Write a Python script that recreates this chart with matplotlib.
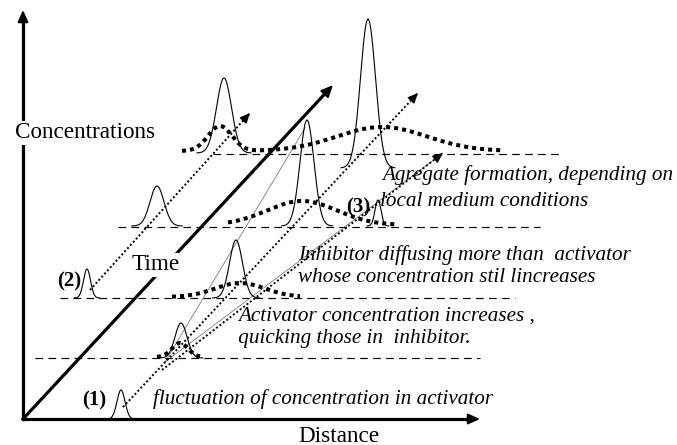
import numpy as np
import matplotlib.pyplot as plt

# diagram units: 1 unit = 1 pixel, y grows downwards
W, H = 677, 445

# origin and axis ends
origin = (23, 419)
x_axis_end = (480, 419)
y_axis_end = (23, 10)
time_end = (333, 85)

# dashed baselines for the time steps
lvl_y = [358, 298, 227, 154]
lvl_x0 = [35, 60, 118, 213]
lvl_x1 = [480, 515, 540, 562]

# activator peaks (solid): centre, baseline, height, width
act_x = [121, 181, 87, 236, 157, 307, 378, 224, 368]
act_base = [419, 358, 298, 298, 226, 226, 226, 153, 168]
act_height = [29, 35, 29, 58, 40, 106, 26, 75, 149]
act_width = [4, 6, 3.5, 6.5, 7, 7, 3, 7.5, 7.5]

# inhibitor profiles (thick dotted)
inh_base = [357, 297, 225, 151]
inh_start = [157, 172, 228, 182]
inh_end = [200, 300, 395, 503]
inh_centers = [[180], [240], [302], [220, 382]]
inh_heights = [[14], [14], [24], [25, 24]]
inh_widths = [[8], [25], [35], [12, 45]]

# dotted evolution arrows
arr_start = [(90, 290), (123, 407), (162, 370)]
arr_end = [(250, 113), (418, 93), (443, 153)]

# thin guide lines
thin_start = [(165, 362), (165, 362)]
thin_end = [(305, 128), (443, 153)]

# labels
notes = [
    ("fluctuation of concentration in activator", 153, 399),
    ("Activator concentration increases ,", 238, 316),
    (" quicking those in  inhibitor.", 233, 338),
    ("Inhibitor diffusing more than  activator", 298, 255),
    ("whose concentration stil lincreases", 298, 278),
    ("Agregate formation, depending on", 382, 175),
    ("local medium conditions", 380, 201),
]
step_labels = [("(1)", 94, 400), ("(2)", 69, 281), ("(3)", 358, 207)]

serif = "Liberation Serif"

fig = plt.figure(figsize=(W / 100, H / 100), dpi=100)
ax = fig.add_axes([0, 0, 1, 1])
ax.set_xlim(0, W)
ax.set_ylim(H, 0)
ax.axis("off")


def arrow_head(p0, p1, lw, size):
    frac = 0.02
    tail = (p1[0] - (p1[0] - p0[0]) * frac, p1[1] - (p1[1] - p0[1]) * frac)
    ax.annotate("", xy=p1, xytext=tail,
                arrowprops=dict(arrowstyle="-|>,head_length=%s,head_width=%s" % (size, size * 0.45),
                                color="black", lw=lw, shrinkA=0, shrinkB=0), zorder=6)


# main axes
ax.plot([origin[0], x_axis_end[0] - 8], [origin[1], origin[1]], color="black", lw=2.3, zorder=4)
arrow_head(origin, x_axis_end, 1.5, 0.7)
ax.plot([origin[0], origin[0]], [origin[1], y_axis_end[1] + 8], color="black", lw=2.3, zorder=4)
arrow_head(origin, y_axis_end, 1.5, 0.7)

# time arrow
ax.plot([origin[0], time_end[0] - 6], [origin[1], time_end[1] + 6.5], color="black", lw=2.3, zorder=4)
arrow_head(origin, time_end, 1.5, 0.7)

# dashed baselines
for y, x0, x1 in zip(lvl_y, lvl_x0, lvl_x1):
    ax.plot([x0, x1], [y, y], color="black", lw=0.85, linestyle=(0, (6.5, 4.5)), zorder=2)

# thin guide lines
for p0, p1 in zip(thin_start, thin_end):
    ax.plot([p0[0], p1[0]], [p0[1], p1[1]], color="#555555", lw=0.45, zorder=2)

# dotted arrows
for p0, p1 in zip(arr_start, arr_end):
    ax.plot([p0[0], p1[0]], [p0[1], p1[1]], color="black", lw=1.4,
            linestyle=(0, (1, 1.2)), zorder=3)
    arrow_head(p0, p1, 1.0, 0.6)

# activator peaks
for c, b, h, w in zip(act_x, act_base, act_height, act_width):
    xs = np.linspace(c - 3.6 * w, c + 3.6 * w, 200)
    ys = b - h * np.exp(-0.5 * ((xs - c) / w) ** 2)
    ax.plot(xs, ys, color="black", lw=0.8, zorder=4)

# inhibitor profiles
for b, x0, x1, cs, hs, ws in zip(inh_base, inh_start, inh_end, inh_centers, inh_heights, inh_widths):
    xs = np.linspace(x0, x1, 400)
    ys = np.full_like(xs, float(b))
    for c, h, w in zip(cs, hs, ws):
        ys -= h * np.exp(-0.5 * ((xs - c) / w) ** 2)
    ax.plot(xs, ys, color="black", lw=2.9, linestyle=(0, (1, 1)),
            solid_capstyle="butt", dash_capstyle="butt", zorder=5)

# axis titles
ax.text(85, 133, "Concentrations", fontsize=16.7, family=serif, ha="center", va="center",
        bbox=dict(facecolor="white", edgecolor="none", pad=1), zorder=7)
ax.text(156, 265, "Time", fontsize=16.7, family=serif, ha="center", va="center",
        bbox=dict(facecolor="white", edgecolor="none", pad=1), zorder=7)
ax.text(339, 436, "Distance", fontsize=16.7, family=serif, ha="center", va="center")

for s, x, y in notes:
    ax.text(x, y, s, fontsize=15.2, family=serif, style="italic", ha="left", va="center", zorder=1)

for s, x, y in step_labels:
    ax.text(x, y, s, fontsize=15, family=serif, weight="bold", ha="center", va="center", zorder=6)

fig.savefig("out.png", dpi=100)
